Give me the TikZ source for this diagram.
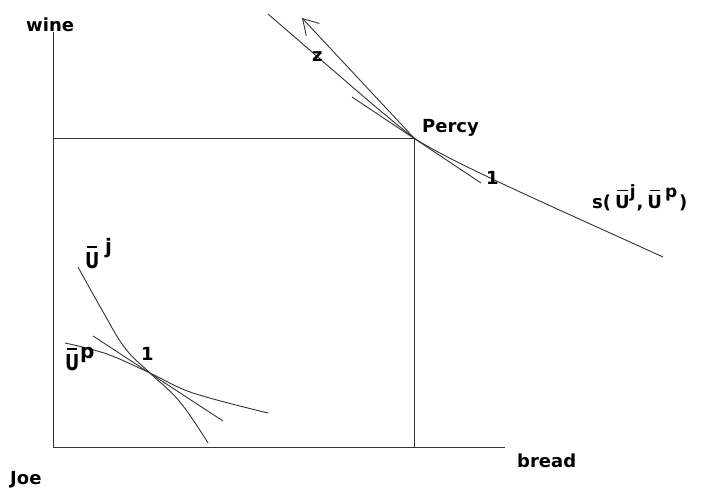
\documentclass[tikz,border=0pt]{standalone}
\usepackage{fontspec}
\setmainfont{DejaVu Sans}
\usetikzlibrary{arrows.meta}
% #1 = font size, #2 = horizontal scale of the U
\newcommand\ubarsz[2]{{\fontsize{#1}{#1}\selectfont\bfseries\setbox0\hbox{\scalebox{#2}[1]{U}}\rlap{\hbox to\wd0{\hss\rule[\dimexpr\ht0+0.2em\relax]{0.7\wd0}{0.09em}\hss}}\box0}}
\tikzset{
  ln/.style={draw=black!80, line width=0.9pt},
  lab/.style={inner sep=0pt, anchor=base west, font=\fontsize{18}{20}\selectfont\bfseries},
  sup/.style={inner sep=0pt, anchor=base west, font=\fontsize{20}{22}\selectfont\bfseries},
}
\begin{document}
\begin{tikzpicture}[x=1pt,y=-1pt]
\useasboundingbox (0,0) rectangle (704,489);
% key points
\coordinate (O) at (53,447);
\coordinate (Ytop) at (53,32);
\coordinate (Xend) at (505,447);
\coordinate (P) at (414,138);
\coordinate (Pleft) at (53,138);
\coordinate (Pdown) at (414,447);
% axes and box
\draw[ln] (Ytop) -- (O) -- (Xend);
\draw[ln] (Pleft) -- (P) -- (Pdown);
% big curve s
\coordinate (sA) at (268,14);
\coordinate (sE) at (663,257);
\draw[ln] (sA) .. controls (340,76) and (385,116) .. (P) .. controls (450,162) and (560,210) .. (sE);
% tangent at Percy
\coordinate (tA) at (352,97);
\coordinate (tB) at (481,183);
\draw[ln] (tA) -- (tB);
% arrow z
\coordinate (ztip) at (302,18);
\draw[ln, -{Straight Barb[length=15pt,width=18pt]}] (P) -- (ztip);
% bottom-left curves
\coordinate (Q) at (150,373);
\draw[ln] plot[smooth, tension=0.7] coordinates {(78,267) (102,310) (125,348) (Q) (180,402) (208,443)};
\draw[ln] plot[smooth, tension=0.6] coordinates {(65,343) (107,354) (Q) (193,393) (268,413)};
\coordinate (qA) at (93,336);
\coordinate (qB) at (223,421);
\draw[ln] (qA) -- (qB);
% labels
\node[lab] (wine) at (26,32) {wine};
\node[lab] (joe) at (10,484) {Joe};
\node[lab] (bread) at (517,467) {bread};
\node[lab] (percy) at (422,133) {Percy};
\node[lab] (z) at (312,62) {z};
\node[lab] (one1) at (486,185) {1};
\node[lab] (one2) at (141,360) {1};
\node[lab] (Uj) at (85,268) {\ubarsz{22}{0.8}};
\node[sup] (j) at (105,253) {j};
\node[lab] (Up) at (65,370) {\ubarsz{22}{0.8}};
\node[sup] (p) at (80,358) {p};
\node[lab] (s) at (592,208) {s(\hspace{4pt}\ubarsz{18}{1}\raisebox{10pt}{\fontsize{17}{17}\selectfont j}\hspace{1pt},\hspace{4pt}\ubarsz{18}{1}\hspace{3pt}\raisebox{10pt}{\fontsize{17}{17}\selectfont p}\hspace{2pt})};
\end{tikzpicture}
\end{document}
